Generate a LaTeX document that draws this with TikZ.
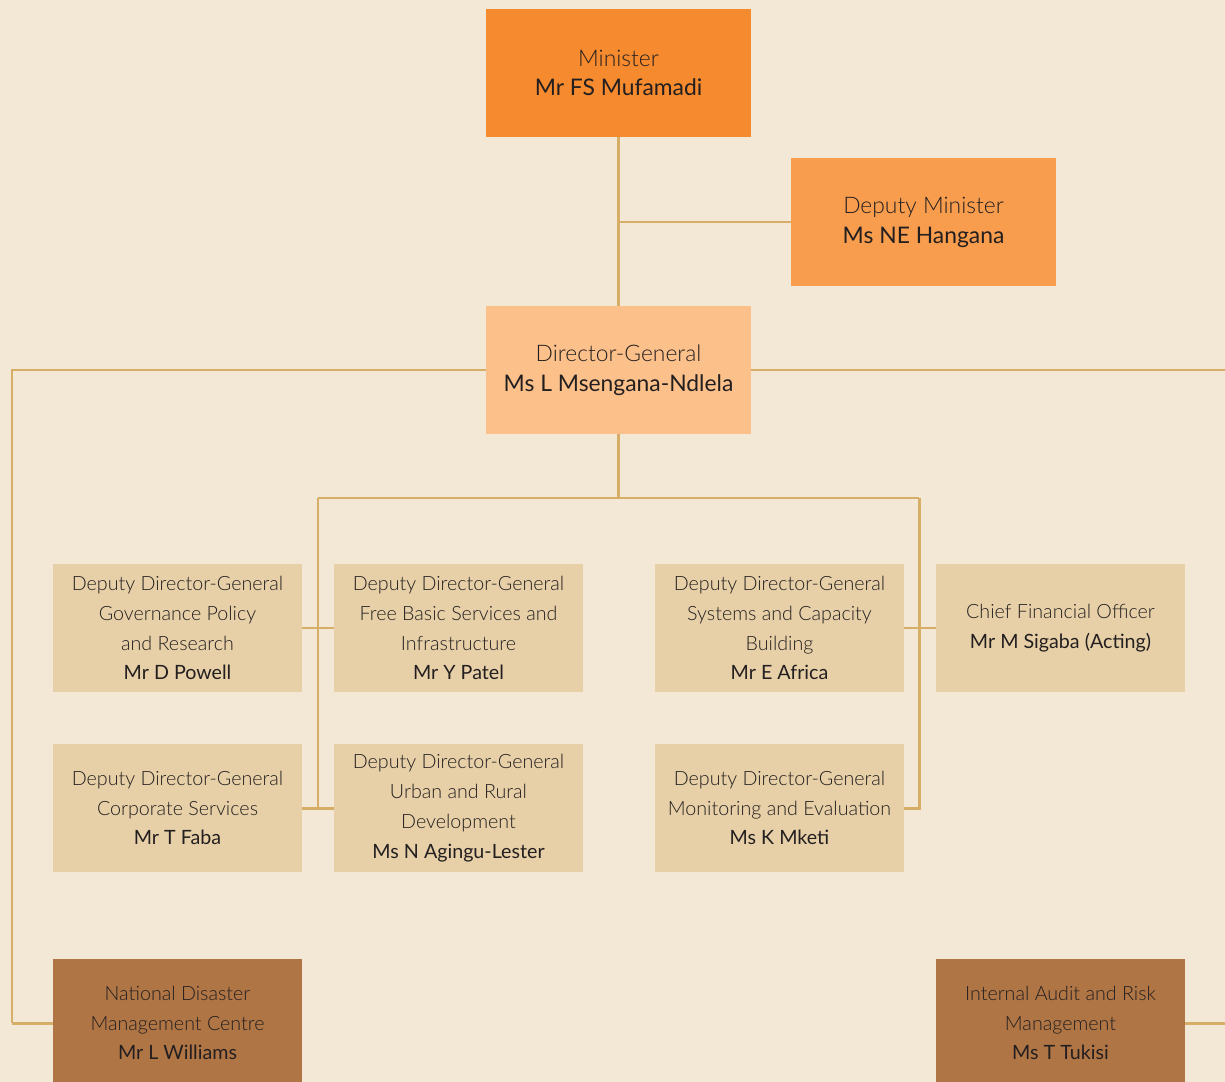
\documentclass[tikz,border=0pt]{standalone}
\usepackage{fontspec}
\setmainfont{Lato}[UprightFont=* Light,BoldFont=*]
\definecolor{bgCol}{RGB}{243,232,214}
\definecolor{minCol}{RGB}{245,138,46}
\definecolor{depCol}{RGB}{247,157,77}
\definecolor{dgCol}{RGB}{252,192,138}
\definecolor{ddgCol}{RGB}{231,208,167}
\definecolor{unitCol}{RGB}{176,117,69}
\definecolor{lineCol}{RGB}{214,174,104}
\definecolor{txtCol}{RGB}{35,31,32}

\begin{document}
\begin{tikzpicture}
[typeM/.style={rectangle,fill=minCol,inner sep=0pt,minimum width=5.3cm,minimum height=2.56cm,align=center,text=txtCol,font=\fontsize{13}{17}\selectfont},
 typeD/.style={typeM,fill=depCol},
 typeG/.style={typeM,fill=dgCol},
 typeB/.style={typeM,fill=ddgCol,minimum width=4.98cm,font=\fontsize{11.2}{17}\selectfont},
 typeU/.style={typeB,fill=unitCol},
 link/.style={draw=lineCol,line width=1.7pt},
 hv path/.style={link, to path={-| (\tikztotarget)}},
 vh path/.style={link, to path={|- (\tikztotarget)}}]
\begin{scope}[x=0.02cm, y=-0.02cm]
\useasboundingbox (0,0) rectangle (1225,1082);
\clip (0,0) rectangle (1225,1082);
\fill[bgCol] (0,0) rectangle (1225,1082);
% top of the chart
\node[typeM] (M)    at ( 618.5,  73) {Minister\\\textbf{Mr FS Mufamadi}};
\node[typeD] (D)    at ( 923.5, 222) {Deputy Minister\\\textbf{Ms NE Hangana}};
\node[typeG] (G)    at ( 618.5, 370) {Director-General\\\textbf{Ms L Msengana-Ndlela}};
% branches
\node[typeB] (B11)  at ( 177.5, 628) {Deputy Director-General\\Governance Policy\\and Research\\\textbf{Mr D Powell}};
\node[typeB] (B12)  at ( 458.5, 628) {Deputy Director-General\\Free Basic Services and\\Infrastructure\\\textbf{Mr Y Patel}};
\node[typeB] (B13)  at ( 779.5, 628) {Deputy Director-General\\Systems and Capacity\\Building\\\textbf{Mr E Africa}};
\node[typeB] (CFO)  at (1060.5, 628) {Chief Financial Officer\\\textbf{Mr M Sigaba (Acting)}};
\node[typeB] (B21)  at ( 177.5, 808) {Deputy Director-General\\Corporate Services\\\textbf{Mr T Faba}};
\node[typeB] (B22)  at ( 458.5, 808) {Deputy Director-General\\Urban and Rural\\Development\\\textbf{Ms N Agingu-Lester}};
\node[typeB] (B23)  at ( 779.5, 808) {Deputy Director-General\\Monitoring and Evaluation\\\textbf{Ms K Mketi}};
% units under the DG
\node[typeU] (U1)   at ( 177.5,1023) {National Disaster\\Management Centre\\\textbf{Mr L Williams}};
\node[typeU] (U2)   at (1060.5,1023) {Internal Audit and Risk\\Management\\\textbf{Ms T Tukisi}};
\coordinate (Mhop)  at ( 618.5, 222);
\coordinate (Ghop)  at ( 618.5, 498);
\coordinate (Lhop)  at ( 318  , 498);
\coordinate (Rhop)  at ( 919  , 498);
\coordinate (Uleft) at (  12  ,1023);
\coordinate (Uright) at (1240 ,1023);
\path (M.south)   edge[link] (G.north)
      (Mhop)      edge[link] (D.west)
      (G.west)    edge[hv path] (Uleft)
      (Uleft)     edge[link] (U1.west)
      (G.east)    edge[hv path] (Uright)
      (Uright)    edge[link] (U2.east)
      (G.south)   edge[link] (Ghop)
      (Lhop)      edge[link] (Rhop)
                  edge[link] (Lhop |- B21.east)
      (Rhop)      edge[vh path] (B23.east)
      (B11.east)  edge[link] (B12.west)
      (B21.east)  edge[link] (B22.west)
      (B13.east)  edge[link] (CFO.west);
\end{scope}
\end{tikzpicture}
\end{document}
